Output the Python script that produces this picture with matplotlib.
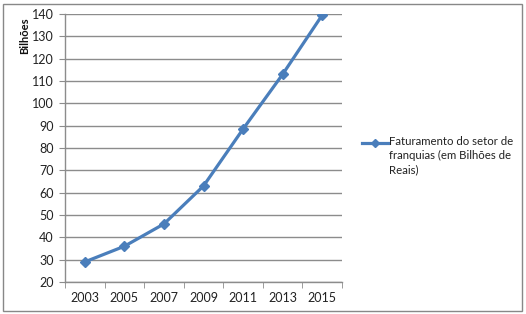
import matplotlib.pyplot as plt
from matplotlib.patches import Rectangle
from matplotlib.lines import Line2D
import numpy as np

years = ['2003', '2005', '2007', '2009', '2011', '2013', '2015']
revenue = [29, 36, 46, 63, 88.5, 113, 139.5]
series_name = 'Faturamento do setor de\nfranquias (em Bilhões de\nReais)'

plt.rcParams['font.family'] = ['Lato', 'DejaVu Sans']

W, H = 526, 314
fig = plt.figure(figsize=(W / 100, H / 100), dpi=100)
ax = fig.add_axes([65 / W, 1 - 282 / H, (342 - 65) / W, (282 - 14) / H])

x = np.arange(len(years))
line_color = '#4A7EBB'
grid_color = '#8C8C8C'
text_color = '#222222'

ax.plot(x, revenue, color=line_color, lw=2.3, marker='D', ms=5.5,
        solid_joinstyle='round')

ax.set_xlim(-0.5, len(years) - 0.5)
ax.set_ylim(20, 140)
ax.set_yticks(np.arange(20, 141, 10))
ax.set_xticks(x)
ax.set_xticklabels(years)
ax.set_xticks(np.arange(-0.5, len(years), 1), minor=True)
ax.tick_params(axis='x', which='major', length=0, pad=7, labelsize=9, labelcolor=text_color)
ax.tick_params(axis='x', which='minor', length=4, color=grid_color, direction='out')
ax.tick_params(axis='y', length=4, color=grid_color, direction='out', labelsize=9,
               labelcolor=text_color, pad=4)

ax.grid(axis='y', color=grid_color, lw=1)
ax.set_axisbelow(True)
for s in ['top', 'right']:
    ax.spines[s].set_visible(False)
for s in ['left', 'bottom']:
    ax.spines[s].set_color(grid_color)
    ax.spines[s].set_linewidth(1)

# axis title sits at the top left, like the Excel original
fig.text(25 / W, 1 - 36 / H, 'Bilhões', rotation=90, fontsize=8,
         fontweight='bold', ha='center', va='center', color='#111111')

# legend drawn by hand so the key lines up with the first text line
ly = 1 - 143 / H
fig.add_artist(Line2D([362 / W, 388 / W], [ly, ly], color=line_color, lw=2.3,
                      transform=fig.transFigure))
fig.add_artist(Line2D([375 / W], [ly], color=line_color, marker='D', ms=4,
                      transform=fig.transFigure))
fig.text(389 / W, 1 - 136 / H, series_name, fontsize=8.2, color=text_color,
         ha='left', va='top', linespacing=1.35)

fig.patches.append(Rectangle((3 / W, 3 / H), 519 / W, 307 / H,
                             transform=fig.transFigure, fill=False,
                             edgecolor='#888888', lw=1))

fig.savefig('out.png', dpi=100)
